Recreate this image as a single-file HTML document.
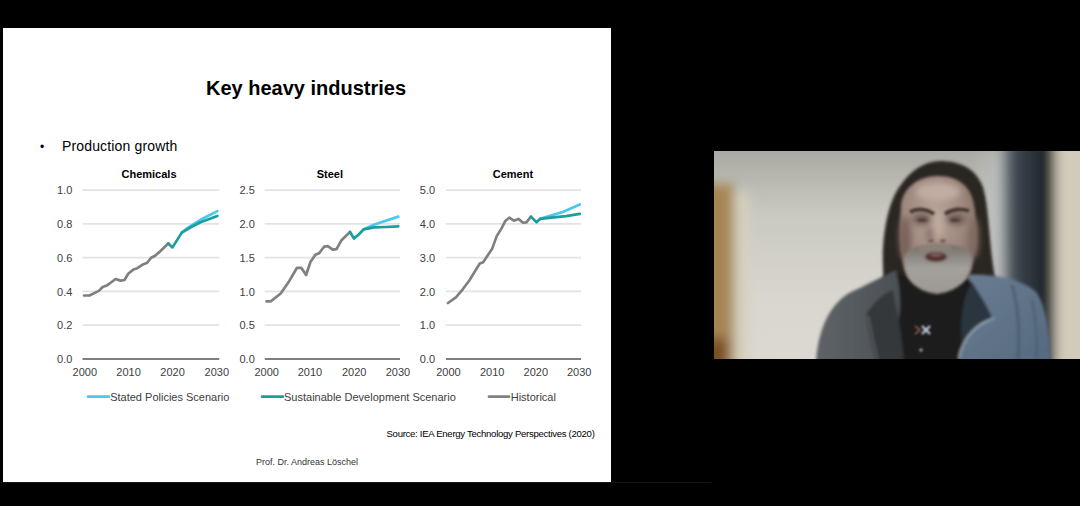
<!DOCTYPE html>
<html><head><meta charset="utf-8">
<style>
html,body{margin:0;padding:0;background:#000;width:1080px;height:506px;overflow:hidden;position:relative;font-family:"Liberation Sans",sans-serif;}
#slide{position:absolute;left:3px;top:28px;width:608px;height:454px;background:#fff;}
#bline{position:absolute;left:0;top:482px;width:711px;height:1px;background:#151515;}
.t{position:absolute;white-space:nowrap;line-height:1;}
svg{position:absolute;left:0;top:0;}
#cam{position:absolute;left:714px;top:151px;width:366px;height:208px;overflow:hidden;background:#d6d3cc;}
</style></head>
<body>
<div id="bline"></div>
<div id="slide"></div>
<div class="t" id="title" style="left:206px;top:77.6px;font-size:20px;font-weight:bold;color:#000;">Key heavy industries</div>
<div class="t" id="bul" style="left:40px;top:141px;font-size:12px;color:#000;">&#8226;</div>
<div class="t" id="pg" style="left:62px;top:139px;font-size:14px;letter-spacing:0.15px;color:#000;">Production growth</div>
<div class="t" id="src" style="left:386.5px;top:429px;font-size:9.6px;letter-spacing:-0.3px;color:#000;">Source: IEA Energy Technology Perspectives (2020)</div>
<div class="t" id="prof" style="left:256px;top:458px;font-size:9px;color:#333;">Prof. Dr. Andreas Löschel</div>

<svg width="1080" height="506" viewBox="0 0 1080 506" font-family="Liberation Sans, sans-serif">
<g stroke="#e3e3e3" stroke-width="1.8">
<line x1="82.5" x2="219.2" y1="190.1" y2="190.1"/><line x1="82.5" x2="219.2" y1="223.9" y2="223.9"/><line x1="82.5" x2="219.2" y1="257.6" y2="257.6"/><line x1="82.5" x2="219.2" y1="291.4" y2="291.4"/><line x1="82.5" x2="219.2" y1="325.1" y2="325.1"/>
<line x1="264.8" x2="400" y1="190.1" y2="190.1"/><line x1="264.8" x2="400" y1="223.9" y2="223.9"/><line x1="264.8" x2="400" y1="257.6" y2="257.6"/><line x1="264.8" x2="400" y1="291.4" y2="291.4"/><line x1="264.8" x2="400" y1="325.1" y2="325.1"/>
<line x1="446" x2="581" y1="190.1" y2="190.1"/><line x1="446" x2="581" y1="223.9" y2="223.9"/><line x1="446" x2="581" y1="257.6" y2="257.6"/><line x1="446" x2="581" y1="291.4" y2="291.4"/><line x1="446" x2="581" y1="325.1" y2="325.1"/>
</g>
<g stroke="#555" stroke-width="1.6">
<line x1="82.5" x2="219.2" y1="359" y2="359"/>
<line x1="264.8" x2="400" y1="359" y2="359"/>
<line x1="446" x2="581" y1="359" y2="359"/>
</g>
<g font-size="11" fill="#000" font-weight="bold" text-anchor="middle">
<text x="149" y="178">Chemicals</text>
<text x="329.8" y="178">Steel</text>
<text x="512.9" y="178">Cement</text>
</g>
<g font-size="11" fill="#404040" text-anchor="end">
<text x="72.4" y="194">1.0</text><text x="72.4" y="228">0.8</text><text x="72.4" y="261.5">0.6</text><text x="72.4" y="295.5">0.4</text><text x="72.4" y="329">0.2</text><text x="72.4" y="363">0.0</text>
<text x="254.8" y="194">2.5</text><text x="254.8" y="228">2.0</text><text x="254.8" y="261.5">1.5</text><text x="254.8" y="295.5">1.0</text><text x="254.8" y="329">0.5</text><text x="254.8" y="363">0.0</text>
<text x="435.1" y="194">5.0</text><text x="435.1" y="228">4.0</text><text x="435.1" y="261.5">3.0</text><text x="435.1" y="295.5">2.0</text><text x="435.1" y="329">1.0</text><text x="435.1" y="363">0.0</text>
</g>
<g font-size="11" fill="#404040" text-anchor="middle">
<text x="84.8" y="376">2000</text><text x="128.6" y="376">2010</text><text x="172.6" y="376">2020</text><text x="216.8" y="376">2030</text>
<text x="266.7" y="376">2000</text><text x="310" y="376">2010</text><text x="354.2" y="376">2020</text><text x="398" y="376">2030</text>
<text x="448.4" y="376">2000</text><text x="492.2" y="376">2010</text><text x="535.8" y="376">2020</text><text x="579.2" y="376">2030</text>
</g>
<g fill="none" stroke-width="2.7" stroke-linecap="round" stroke-linejoin="round">
<polyline stroke="#808080" points="84,295.5 89.5,295.5 98.8,290.9 102.7,287 106.7,285.6 111.6,282 115.6,279 120.5,280.6 124.5,280 128.4,273.5 133.4,269.6 137.3,268.2 142.3,264.8 147.2,262.8 151.1,257.7 155.1,255.7 160,251.4 168.3,243.5"/>
<polyline stroke="#4cc6f2" points="181.8,232.6 188,227.6 200.5,219.8 217.4,211.1"/>
<polyline stroke="#1a9e9e" points="168.3,243.5 172.5,247.4 181.8,232.6 190.7,227.3 200.5,222.2 217.4,216"/>

<polyline stroke="#808080" points="266.5,301.3 270.9,301.3 280.7,293.5 288.3,282.6 297,267.8 301.3,267.8 306.1,275 310.4,262 315.4,254.8 319.1,253.3 324.1,246.7 327.8,246.1 332.8,249.6 336.5,249.1 341.5,240.2 350,232"/>
<polyline stroke="#4cc6f2" points="363.7,229.3 375.2,224.3 398.3,216.6"/>
<polyline stroke="#1a9e9e" points="350,232 354,238.5 358.5,234.8 363.7,229.3 374,227.4 386,227 398.3,226.4"/>

<polyline stroke="#808080" points="448,303 455.9,297.3 462.7,289.3 469.5,280.2 476.4,268.9 479.8,263.6 483.2,262.3 492.3,248.4 496.8,235.9 501.4,228.6 505.5,220.7 509.3,217.7 513.9,220.7 518.4,218.9 523,222.7 526.4,222.3 530.9,216.6"/>
<polyline stroke="#4cc6f2" points="540,218.9 562.7,212 579.8,204.5"/>
<polyline stroke="#1a9e9e" points="530.9,216.6 536.6,222.3 540,218.9 551.4,217.7 566.1,216.1 579.8,213.9"/>
</g>
<g stroke-width="2.7" stroke-linecap="round">
<line x1="88" x2="109" y1="396.7" y2="396.7" stroke="#4cc6f2"/>
<line x1="262" x2="283" y1="396.7" y2="396.7" stroke="#1a9e9e"/>
<line x1="489" x2="509" y1="396.7" y2="396.7" stroke="#808080"/>
</g>
<g font-size="11" fill="#404040">
<text x="110.2" y="400.6">Stated Policies Scenario</text>
<text x="284" y="400.6">Sustainable Development Scenario</text>
<text x="510.7" y="400.6">Historical</text>
</g>
</svg>

<div id="cam"><svg width="366" height="208" viewBox="714 151 366 208" style="position:absolute;left:0;top:0">
<defs>
<filter id="b10" x="-50%" y="-50%" width="200%" height="200%"><feGaussianBlur stdDeviation="10"/></filter>
<filter id="b6" x="-50%" y="-50%" width="200%" height="200%"><feGaussianBlur stdDeviation="6"/></filter>
<filter id="b3" x="-50%" y="-50%" width="200%" height="200%"><feGaussianBlur stdDeviation="3"/></filter>
<filter id="b2" x="-50%" y="-50%" width="200%" height="200%"><feGaussianBlur stdDeviation="1.8"/></filter>
<filter id="b1" x="-50%" y="-50%" width="200%" height="200%"><feGaussianBlur stdDeviation="1"/></filter>
<linearGradient id="bgv" x1="0" y1="0" x2="0" y2="1">
<stop offset="0" stop-color="#a9aaa3"/><stop offset="0.3" stop-color="#cac9c1"/><stop offset="0.7" stop-color="#d8d6ce"/><stop offset="1" stop-color="#dad8d0"/>
</linearGradient>
<linearGradient id="rstrip" x1="0" y1="0" x2="1" y2="0">
<stop offset="0" stop-color="#7a8088"/><stop offset="0.2" stop-color="#3e4650"/><stop offset="0.8" stop-color="#20242a"/><stop offset="1" stop-color="#2c2c2a"/>
</linearGradient>
<radialGradient id="face" cx="0.45" cy="0.35" r="0.7">
<stop offset="0" stop-color="#b8a59b"/><stop offset="0.55" stop-color="#9f897f"/><stop offset="1" stop-color="#74625b"/>
</radialGradient>
<linearGradient id="beard" x1="0" y1="0" x2="0" y2="1">
<stop offset="0" stop-color="#736c66"/><stop offset="0.5" stop-color="#a4a19c"/><stop offset="1" stop-color="#9c9994"/>
</linearGradient>
<linearGradient id="fleeceR" x1="0" y1="0" x2="1" y2="1">
<stop offset="0" stop-color="#6a7d92"/><stop offset="1" stop-color="#55697f"/>
</linearGradient>
<linearGradient id="fleeceL" x1="0" y1="0" x2="1" y2="0">
<stop offset="0" stop-color="#5e6367"/><stop offset="1" stop-color="#4b5053"/>
</linearGradient>
</defs>
<rect x="714" y="151" width="366" height="208" fill="url(#bgv)"/>
<g filter="url(#b10)">
<rect x="985" y="150" width="25" height="220" fill="#b9bcbc"/>
</g>
<g filter="url(#b6)">
<rect x="700" y="184" width="34" height="190" fill="#a58552"/>
<rect x="700" y="338" width="28" height="40" fill="#7a5028"/>
<rect x="734" y="192" width="14" height="180" fill="#d5d1c0"/>
<rect x="1004" y="140" width="51" height="230" fill="url(#rstrip)"/>
<rect x="1055" y="140" width="40" height="230" fill="#d2cbbb"/>
</g>
<g filter="url(#b2)">
<path d="M884,284 C880,245 886,205 900,186 C911,170 925,161 940,161 C961,161 976,169 983,187 C990,212 989,250 996,282 C997,294 987,298 975,294 L905,294 C893,296 885,292 884,284 Z" fill="#2c2622"/>
</g>
<g filter="url(#b2)">
<path d="M872,288 C885,278 900,272 915,274 L965,274 C980,272 992,276 1000,281 L1002,362 L868,362 Z" fill="#1c1e1f"/>
<path d="M816,362 C818,330 830,298 860,288 C872,282 885,275 896,270 C900,290 903,310 895,335 L888,362 Z" fill="url(#fleeceL)"/>
<path d="M866,314 C875,300 886,292 893,290 C898,315 902,338 904,362 L876,362 C872,345 868,330 866,314 Z" fill="#36393b"/>
<path d="M868,316 C872,335 875,350 878,360" stroke="#70767a" stroke-width="1" fill="none"/>
<path d="M966,275 C990,274 1020,277 1036,292 C1046,305 1049,330 1051,362 L958,362 C962,340 970,325 992,318 C985,300 975,288 966,275 Z" fill="url(#fleeceR)"/>
<path d="M972,282 C980,295 988,308 992,318 C978,322 968,330 962,345 C960,320 962,300 972,282 Z" fill="#2c3440"/>
<path d="M959,358 C963,338 975,325 994,318" stroke="#b8c0c8" stroke-width="1.2" fill="none"/>
<path d="M1012,285 C1018,305 1020,330 1018,360" stroke="#44566c" stroke-width="3" fill="none" opacity="0.7"/>
<path d="M1032,300 C1036,320 1038,340 1036,360" stroke="#44566c" stroke-width="2.5" fill="none" opacity="0.6"/>
</g>
<g filter="url(#b2)">
<path d="M901,205 C903,188 918,176 938,176 C960,176 973,188 975,210 C978,235 976,258 970,275 C960,292 915,292 906,275 C900,258 899,230 901,205 Z" fill="url(#face)"/>
</g>
<g filter="url(#b3)">
<ellipse cx="922" cy="219" rx="10" ry="6" fill="#705a52"/>
<ellipse cx="956" cy="219" rx="10" ry="6" fill="#705a52"/>
<ellipse cx="938" cy="226" rx="5" ry="13" fill="#c2ab9f"/>
<ellipse cx="930" cy="234" rx="4" ry="7" fill="#86706a"/>
<ellipse cx="905" cy="238" rx="6" ry="22" fill="#7a625a"/>
<ellipse cx="974" cy="238" rx="5" ry="20" fill="#806a60"/>
<ellipse cx="938" cy="192" rx="22" ry="9" fill="#c2ada2"/>
</g>
<g filter="url(#b1)">
<path d="M910,212 C917,208 927,209 934,214" stroke="#4a3832" stroke-width="3.8" fill="none"/>
<path d="M945,214 C952,209 962,208 969,211" stroke="#4a3832" stroke-width="3.8" fill="none"/>
<ellipse cx="922" cy="220" rx="5" ry="1.6" fill="#4a3a36"/>
<ellipse cx="955" cy="220" rx="5" ry="1.6" fill="#4a3a36"/>
<ellipse cx="931" cy="241" rx="3" ry="2" fill="#7d6058"/>
<ellipse cx="943" cy="241" rx="3" ry="2" fill="#7d6058"/>
</g>
<g filter="url(#b2)">
<path d="M904,258 C906,250 914,246 925,245 C932,243 945,243 952,245 C963,246 971,251 972,258 C971,278 960,291 937,294 C914,291 904,278 904,258 Z" fill="url(#beard)"/>
<path d="M918,247 C928,242 944,242 952,246 L950,252 L920,252 Z" fill="#8a8078"/>
<ellipse cx="936" cy="257" rx="11" ry="5" fill="#4e2e2c"/>
<ellipse cx="936" cy="255" rx="6" ry="1.5" fill="#8a6666"/>
</g>
<g filter="url(#b1)">
<path d="M922,326 L930,334 M930,326 L922,334" stroke="#c8d0e0" stroke-width="2.2"/>
<path d="M915,326 L920,330 L915,334" stroke="#a07060" stroke-width="1.4" fill="none"/>
<circle cx="921" cy="350" r="1.5" fill="#c0c0c0"/>
</g>
</svg></div>
</body></html>
